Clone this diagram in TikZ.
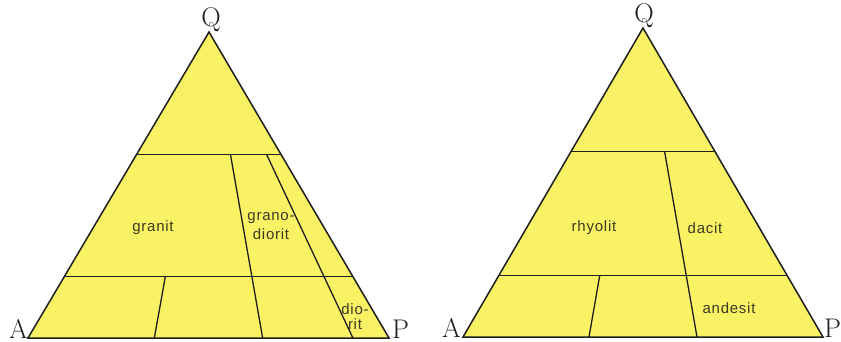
\documentclass[tikz,border=0pt]{standalone}
\usepackage{fontspec}
\newfontfamily\rockfont[LetterSpace=5]{Liberation Sans}
\usetikzlibrary{calc}
\definecolor{rockyellow}{HTML}{FAF265}
\definecolor{inkline}{HTML}{1E1E1E}
\definecolor{inktext}{HTML}{3A3A22}

\begin{document}
\begin{tikzpicture}[
    x=1pt, y=-1pt,
    field/.style={fill=rockyellow, draw=inkline, line width=1.5pt, line join=miter},
    border/.style={draw=inkline, line width=1.3pt},
    corner/.style={font=\fontsize{27}{27}\selectfont, text=inkline, inner sep=0pt},
    rock/.style={font=\rockfont\fontsize{15}{19}\selectfont, align=center, text=inktext, inner sep=0pt},
]
    \useasboundingbox (0,0) rectangle (841,342);

    % =====================================================================
    % (a) PLUTONIC ROCKS
    % =====================================================================
    \coordinate (A1) at (28,338);
    \coordinate (P1) at (389,338);
    \coordinate (Q1) at (209,32);

    \draw[field] (A1) -- (P1) -- (Q1) -- cycle;

    % Q = 60 and Q = 20
    \draw[border] ($(Q1)!0.4!(A1)$) -- ($(Q1)!0.4!(P1)$);
    \draw[border] ($(Q1)!0.8!(A1)$) -- ($(Q1)!0.8!(P1)$);

    % P/(A+P) = 35, 65, 90
    \coordinate (b35a) at ($(A1)!0.35!(P1)$);
    \coordinate (b65a) at ($(A1)!0.65!(P1)$);
    \coordinate (b90a) at ($(A1)!0.90!(P1)$);
    \draw[border] ($(Q1)!0.8!(b35a)$) -- (b35a);
    \draw[border] ($(Q1)!0.4!(b65a)$) -- (b65a);
    \draw[border] ($(Q1)!0.4!(b90a)$) -- (b90a);

    % Corners
    \node[corner, anchor=south] (q1) at ($(Q1)+(2,0)$) {Q};
    \node[corner, anchor=base east] (a1) at (A1) {A};
    \node[corner, anchor=base west] (p1) at ($(P1)+(3,0)$) {P};

    % Fields
    \node[rock] (granit) at (153,228) {granit};
    \node[rock] (granodiorit) at (271,226) {grano-\\diorit};
    \node[rock] (diorit) at (355,317) {dio-\\[-4pt]rit};

    % =====================================================================
    % (b) VOLCANIC ROCKS
    % =====================================================================
    \coordinate (A2) at (463,337);
    \coordinate (P2) at (823,337);
    \coordinate (Q2) at (643,28);

    \draw[field] (A2) -- (P2) -- (Q2) -- cycle;

    % Q = 60 and Q = 20
    \draw[border] ($(Q2)!0.4!(A2)$) -- ($(Q2)!0.4!(P2)$);
    \draw[border] ($(Q2)!0.8!(A2)$) -- ($(Q2)!0.8!(P2)$);

    % P/(A+P) = 35, 65
    \coordinate (b35b) at ($(A2)!0.35!(P2)$);
    \coordinate (b65b) at ($(A2)!0.65!(P2)$);
    \draw[border] ($(Q2)!0.8!(b35b)$) -- (b35b);
    \draw[border] ($(Q2)!0.4!(b65b)$) -- (b65b);

    % Corners
    \node[corner, anchor=south] (q2) at ($(Q2)+(1,0)$) {Q};
    \node[corner, anchor=base east] (a2) at ($(A2)+(-2,0)$) {A};
    \node[corner, anchor=base west] (p2) at ($(P2)+(1,0)$) {P};

    % Fields
    \node[rock] (rhyolit) at (594,228) {rhyolit};
    \node[rock] (dacit) at (705,228) {dacit};
    \node[rock] (andesit) at (729,308) {andesit};

\end{tikzpicture}
\end{document}
